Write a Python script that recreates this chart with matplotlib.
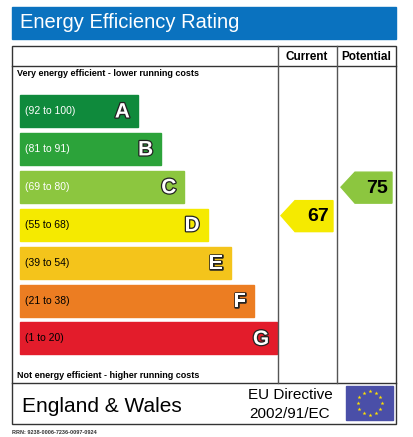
import matplotlib.pyplot as plt
import matplotlib.patheffects as pe
from matplotlib.patches import Rectangle, Polygon
import numpy as np

# data
bands = ['A', 'B', 'C', 'D', 'E', 'F', 'G']
ranges = ['(92 to 100)', '(81 to 91)', '(69 to 80)', '(55 to 68)',
          '(39 to 54)', '(21 to 38)', '(1 to 20)']
lows = [92, 81, 69, 55, 39, 21, 1]
colors = ['#0f8a3c', '#2ca33a', '#8cc63f', '#f5ea00', '#f4c41b', '#ec7d22', '#e31c2b']
text_cols = ['white', 'white', 'white', 'black', 'black', 'black', 'black']
current = 67
potential = 75

fig = plt.figure(figsize=(4.13, 4.37), dpi=100)
ax = fig.add_axes([0, 0, 1, 1])
ax.set_xlim(0, 413)
ax.set_ylim(437, 0)
ax.axis('off')

# title bar
ax.add_patch(Rectangle((12, 7), 384, 32, color='#0a72bf'))
ax.text(20, 23, 'Energy Efficiency Rating', color='white', fontsize=14.5,
        va='center', family='Liberation Sans')

# frame
lw = 1.0
ax.add_patch(Rectangle((12, 46), 384, 378, fill=False, ec='#333333', lw=lw))
ax.plot([12, 396], [66, 66], color='#333333', lw=lw)
ax.plot([12, 396], [383, 383], color='#333333', lw=lw)
ax.plot([278, 278], [46, 383], color='#555555', lw=lw)
ax.plot([337, 337], [46, 383], color='#555555', lw=lw)
ax.text(307, 57, 'Current', ha='center', va='center', fontsize=8.5, weight='bold', family='Liberation Sans')
ax.text(366, 57, 'Potential', ha='center', va='center', fontsize=8.5, weight='bold', family='Liberation Sans')
ax.text(17, 73, 'Very energy efficient - lower running costs', va='center',
        fontsize=6.5, weight='bold', family='Liberation Sans')
ax.text(17, 376, 'Not energy efficient - higher running costs', va='center',
        fontsize=6.5, weight='bold', family='Liberation Sans')

# bands
top0, step, h = 95, 37.9, 32
for i, b in enumerate(bands):
    y = top0 + i * step
    w = 118 + i * 23.2
    ax.add_patch(Rectangle((20, y), w, h, color=colors[i]))
    ax.text(25, y + h / 2, ranges[i], color=text_cols[i], va='center',
            fontsize=7.5, family='Liberation Sans')
    ax.text(20 + w - 8, y + h / 2 + 1, b, color='white', ha='right', va='center',
            fontsize=15, weight='bold', family='Liberation Sans',
            path_effects=[pe.withStroke(linewidth=1.8, foreground='#222222')])

def band_of(v):
    for i, lo in enumerate(lows):
        if v >= lo:
            return i
    return len(lows) - 1

def arrow(x0, x1, v):
    i = band_of(v)
    # position within band by score
    hi = 100 if i == 0 else lows[i - 1] - 1
    frac = (hi - v) / max(hi - lows[i], 1)
    y = top0 + i * step + (frac - 0.5) * 20 + 14
    y = top0 + i * step + frac * 25 - 10
    yc = y + 15
    pts = [(x0, yc), (x0 + 14, y), (x1, y), (x1, y + 31), (x0 + 14, y + 31)]
    ax.add_patch(Polygon(pts, color=colors[i]))
    ax.text(x1 - 4, yc + 1, str(v), ha='right', va='center', fontsize=14,
            weight='bold', family='Liberation Sans')

arrow(281, 333, current)
arrow(341, 392, potential)

# footer
ax.text(22, 406, 'England & Wales', va='center', fontsize=15, family='Liberation Sans')
ax.text(290, 395, 'EU Directive', ha='center', va='center', fontsize=11, family='Liberation Sans')
ax.text(290, 414, '2002/91/EC', ha='center', va='center', fontsize=11, family='Liberation Sans')
ax.add_patch(Rectangle((346, 386), 47, 34, color='#4a4fa8'))
ang = np.linspace(0, 2 * np.pi, 13)[:-1]
ax.scatter(369.5 + 12 * np.cos(ang), 403 + 12 * np.sin(ang), marker='*', s=9,
           color='#ffe100', lw=0, zorder=5)
ax.text(12, 433, 'RRN: 9238-0006-7236-0097-0924', va='center', fontsize=4,
        weight='bold', color='#333333', family='Liberation Sans')

fig.savefig('out.png', dpi=100)
